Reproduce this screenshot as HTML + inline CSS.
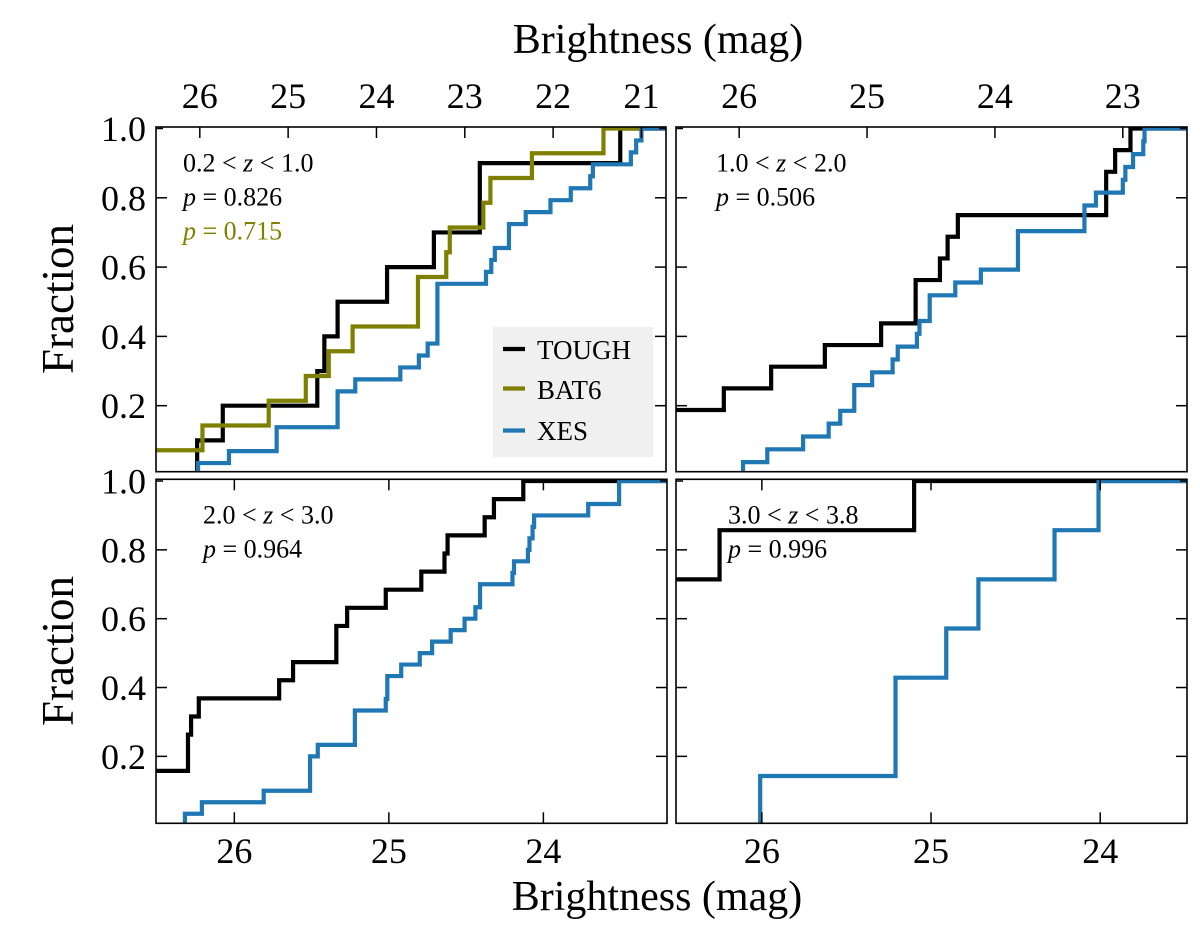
<!DOCTYPE html>
<html><head><meta charset="utf-8"><style>
html,body{margin:0;padding:0;background:#fff;}
svg{display:block;font-family:"Liberation Serif",serif;}
</style></head><body>
<svg id="fig" width="1200" height="949" viewBox="0 0 1200 949" xmlns="http://www.w3.org/2000/svg">
<rect x="0" y="0" width="1200" height="949" fill="#fff"/>
<text x="658" y="53" font-size="42" text-anchor="middle">Brightness (mag)</text>
<text x="657" y="910" font-size="42" text-anchor="middle">Brightness (mag)</text>
<text transform="translate(73,299) rotate(-90)" font-size="45" text-anchor="middle">Fraction</text>
<text transform="translate(73,651) rotate(-90)" font-size="45" text-anchor="middle">Fraction</text>
<g id="layer"></g>
</svg>
<script>
// ---- data (magnitudes; 27.0 = beyond left edge) ----
const p1Tough = [26.03,25.74,24.67,24.59,24.44,23.88,23.35,22.83,22.83,21.24];
const p1Bat6 = [27.0,25.97,25.22,24.80,24.54,24.27,23.53,23.53,23.21,23.17,22.79,22.71,22.24,21.43];
const p1Xes = [26.02,25.67,25.13,25.13,24.44,24.44,24.44,24.24,23.73,23.52,23.42,23.31,23.31,23.31,23.31,23.31,22.76,22.70,22.66,22.50,22.50,22.31,22.03,21.80,21.58,21.55,21.12,21.06,21.00];
const p2Tough = [27.0,27.0,27.0,26.12,25.75,25.33,24.89,24.62,24.62,24.43,24.37,24.29,23.13,23.13,23.06,22.94];
const p2Xes = [25.97,25.78,25.50,25.30,25.21,25.10,25.10,24.96,24.80,24.76,24.61,24.59,24.51,24.51,24.31,24.11,23.82,23.82,23.82,23.30,23.30,23.21,23.00,22.98,22.92,22.84,22.83];
const p3Tough = [27.0,27.0,27.0,26.30,26.30,26.28,26.23,25.71,25.62,25.34,25.34,25.27,25.02,24.79,24.64,24.62,24.38,24.32,24.13];
const p3Xes = [26.32,26.21,25.81,25.51,25.51,25.51,25.46,25.22,25.22,25.22,25.02,25.01,25.01,24.92,24.80,24.72,24.60,24.51,24.44,24.41,24.41,24.20,24.19,24.10,24.09,24.07,24.06,23.71,23.51,23.51];
const p4Tough = [27.0,27.0,27.0,27.0,27.0,26.25,25.10];
const p4Xes = [26.01,25.21,25.21,24.91,24.72,24.27,24.01];
const tl1 = [26,25,24,23,22,21];
const tl2 = [26,25,24,23];
const tl3 = [26,25,24];
const tl4 = [26,25,24];
const yTicks = [0.2,0.4,0.6,0.8,1.0];
const yTickLabels = ["0.2","0.4","0.6","0.8","1.0"];
</script>
<script>
const NS="http://www.w3.org/2000/svg";
const layer=document.getElementById('layer');
function mk(tag,attrs,parent){const e=document.createElementNS(NS,tag);for(const k in attrs)e.setAttribute(k,attrs[k]);(parent||layer).appendChild(e);return e;}
const BLACK="#000",OLIVE="#808000",BLUE="#1f77b4";
const panels=[
 {name:'panel-0p2-1p0',x0:156,x1:666,y0:127,y1:471.7,xl:26.496,xr:20.722,yb:0.0095,yt:1.0043,ticks:tl1,tickSide:'top',ylab:true,
  series:[[p1Tough,BLACK,'tough-line'],[p1Bat6,OLIVE,'bat6-line'],[p1Xes,BLUE,'xes-line']],
  note:['0.2','1.0'],pvals:[['0.826',BLACK],['0.715',OLIVE]],nx:183,ny:171.7},
 {name:'panel-1p0-2p0',x0:676,x1:1187,y0:127,y1:471.7,xl:26.494,xr:22.498,yb:0.0095,yt:1.0043,ticks:tl2,tickSide:'top',ylab:false,
  series:[[p2Tough,BLACK,'tough-line'],[p2Xes,BLUE,'xes-line']],
  note:['1.0','2.0'],pvals:[['0.506',BLACK]],nx:716,ny:171.7},
 {name:'panel-2p0-3p0',x0:156,x1:667,y0:479.3,y1:823.3,xl:26.507,xr:23.2,yb:0.0055,yt:1.005,ticks:tl3,tickSide:'bottom',ylab:true,
  series:[[p3Tough,BLACK,'tough-line'],[p3Xes,BLUE,'xes-line']],
  note:['2.0','3.0'],pvals:[['0.964',BLACK]],nx:203,ny:523.3},
 {name:'panel-3p0-3p8',x0:676,x1:1187,y0:479.3,y1:823.3,xl:26.5075,xr:23.487,yb:0.0055,yt:1.005,ticks:tl4,tickSide:'bottom',ylab:false,
  series:[[p4Tough,BLACK,'tough-line'],[p4Xes,BLUE,'xes-line']],
  note:['3.0','3.8'],pvals:[['0.996',BLACK]],nx:728,ny:523.3}
];
panels.forEach((P,pi)=>{
  const xs=m=>P.x0+(P.xl-m)/(P.xl-P.xr)*(P.x1-P.x0);
  const ys=f=>P.y1-(f-P.yb)/(P.yt-P.yb)*(P.y1-P.y0);
  const g=mk('g',{});
  
  
  const cid='clip'+pi;
  const cp=mk('clipPath',{id:cid},g);mk('rect',{x:P.x0,y:P.y0,width:P.x1-P.x0,height:P.y1-P.y0},cp);
  const sg=mk('g',{'clip-path':'url(#'+cid+')'},g);
  P.series.forEach(([vals,col,nm])=>{
    const v=vals.slice().sort((a,b)=>b-a);const N=v.length;
    let startX=Math.min(v[0],P.xl+0.3);
    let d='M'+xs(startX).toFixed(2)+','+ys(0).toFixed(2);
    v.forEach((m,i)=>{const X=xs(Math.min(m,P.xl+0.3));d+=' L'+X.toFixed(2)+','+ys(i/N).toFixed(2)+' L'+X.toFixed(2)+','+ys((i+1)/N).toFixed(2);});
    d+=' L'+(P.x1+10)+','+ys(1).toFixed(2);
    const p=mk('path',{d:d,fill:'none',stroke:col,'stroke-width':4.2,'stroke-linejoin':'miter'},sg);
    
    
  });
  const fr=mk('rect',{x:P.x0,y:P.y0,width:P.x1-P.x0,height:P.y1-P.y0,fill:'none',stroke:'#000','stroke-width':1.6},g);
  
  
  P.ticks.forEach(t=>{
    const X=xs(t);
    mk('line',{x1:X,x2:X,y1:P.y0,y2:P.y0+11,stroke:'#000','stroke-width':1.5},g);
    if(P.tickSide==='bottom'){mk('line',{x1:X,x2:X,y1:P.y1,y2:P.y1-11,stroke:'#000','stroke-width':1.5},g);}
    const ty=P.tickSide==='top'?108:863;
    const tx=mk('text',{x:X,y:ty,'font-size':36,'text-anchor':'middle'},g);
    tx.textContent=String(t);
    
    
  });
  yTicks.forEach((f,i)=>{
    const Y=ys(f);
    mk('line',{x1:P.x0,x2:P.x0+(f===1?7:11),y1:Y,y2:Y,stroke:'#000','stroke-width':1.5},g);
    mk('line',{x1:P.x1,x2:P.x1-(f===1?7:11),y1:Y,y2:Y,stroke:'#000','stroke-width':1.5},g);
    if(P.ylab){
      const tx=mk('text',{x:146,y:Y+12.5,'font-size':36,'text-anchor':'end'},g);
      tx.textContent=yTickLabels[i];
      
      
    }
  });
  const nt=mk('text',{x:P.nx,y:P.ny,'font-size':26},g);
  
  
  nt.innerHTML=P.note[0]+' &lt; <tspan font-style="italic">z</tspan> &lt; '+P.note[1];
  P.pvals.forEach((pv,k)=>{
    const t=mk('text',{x:P.nx,y:P.ny+34*(k+1),'font-size':26,fill:pv[1]},g);
    
    
    t.innerHTML='<tspan font-style="italic">p</tspan> = '+pv[0];
  });
});
const lg=mk('g',{});


mk('rect',{x:493,y:327,width:160,height:130,fill:'#f0f0f0'},lg);
[['TOUGH',BLACK,349,359],['BAT6',OLIVE,388.5,399],['XES',BLUE,430.5,440]].forEach(([lab,col,ly,by])=>{
  const e=mk('g',{},lg);
  
  
  mk('line',{x1:503,x2:525,y1:ly,y2:ly,stroke:col,'stroke-width':4.2},e);
  const t=mk('text',{x:537,y:by,'font-size':27},e);t.textContent=lab;
});
</script>
</body></html>
